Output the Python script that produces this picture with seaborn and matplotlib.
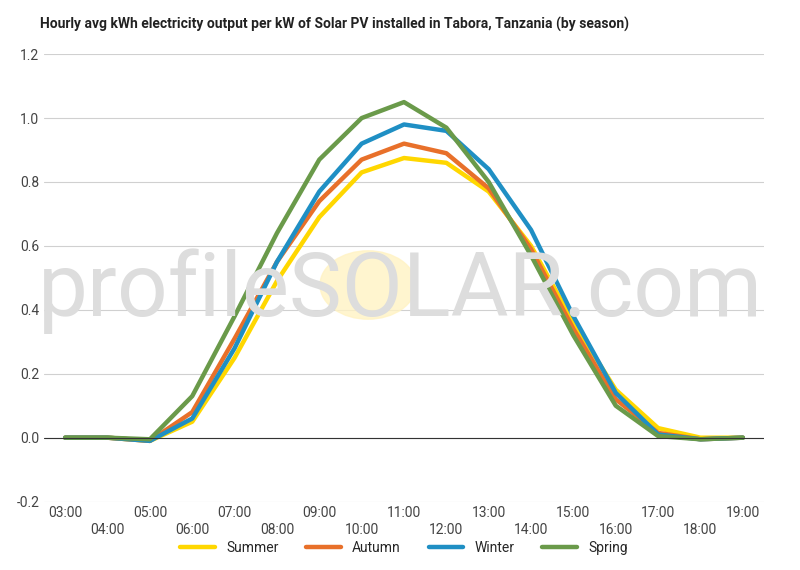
import matplotlib
matplotlib.use("Agg")
import matplotlib.pyplot as plt
import seaborn as sns
import pandas as pd
import numpy as np

hours = ["03:00","04:00","05:00","06:00","07:00","08:00","09:00","10:00","11:00",
         "12:00","13:00","14:00","15:00","16:00","17:00","18:00","19:00"]
summer = [0,0,-0.01,0.05,0.25,0.49,0.69,0.83,0.875,0.86,0.77,0.60,0.36,0.15,0.03,0,0]
autumn = [0,0,-0.01,0.08,0.31,0.55,0.74,0.87,0.92,0.89,0.78,0.59,0.34,0.12,0.015,-0.005,0]
winter = [0,0,-0.01,0.06,0.28,0.55,0.77,0.92,0.98,0.96,0.84,0.65,0.38,0.14,0.01,-0.005,0]
spring = [0,0,-0.005,0.13,0.38,0.64,0.87,1.0,1.05,0.97,0.80,0.57,0.32,0.10,0.005,-0.005,0]
series = {"Summer": summer, "Autumn": autumn, "Winter": winter, "Spring": spring}
colors = {"Summer": "#FFD700", "Autumn": "#E8702A", "Winter": "#1F8FC4", "Spring": "#6A9A4A"}

rows = []
for name, vals in series.items():
    for i, v in enumerate(vals):
        rows.append({"x": i, "y": v, "season": name})
df = pd.DataFrame(rows)

sns.set_theme(style="white")
plt.rcParams['font.family'] = ['Roboto', 'DejaVu Sans']
fig, ax = plt.subplots(figsize=(8, 5.7), dpi=100)
fig.subplots_adjust(left=0.055, right=0.955, top=0.905, bottom=0.12)

# watermark
fig.text(0.5, 0.49, "profileSOLAR.com", fontsize=64, color="#dddddd", ha="center", va="center",
         zorder=0)
circ = plt.Circle((0.46, 0.5), 0.06, transform=fig.transFigure, color="#fff3c4", zorder=0, alpha=0.8)
fig.patches.append(circ)
ax.set_facecolor("none")

sns.lineplot(data=df, x="x", y="y", hue="season", palette=colors, linewidth=3.2, ax=ax, legend=True)

ax.set_ylim(-0.2, 1.2)
ax.set_yticks(np.arange(-0.2, 1.21, 0.2))
ax.set_yticklabels([f"{v:.1f}" for v in np.arange(-0.2, 1.21, 0.2)], color="#444444", fontsize=10)
ax.set_xlim(-0.5, 16.5)
ax.set_xticks(range(len(hours)))
ax.set_xticklabels([h if i % 2 == 0 else "\n" + h for i, h in enumerate(hours)], color="#444444", fontsize=10)
ax.tick_params(length=0)
ax.grid(axis="y", color="#d0d0d0", linewidth=0.8)
ax.axhline(0, color="#333333", linewidth=0.8)
for s in ax.spines.values():
    s.set_visible(False)
ax.set_xlabel("")
ax.set_ylabel("")
ax.legend(loc="upper center", bbox_to_anchor=(0.5, -0.06), ncol=4, frameon=False, fontsize=10,
          handlelength=2.5)
fig.text(0.05, 0.95, "Hourly avg kWh electricity output per kW of Solar PV installed in Tabora, Tanzania (by season)",
         fontsize=10, fontweight="bold", color="#222222")
fig.savefig("out.png", dpi=100)
